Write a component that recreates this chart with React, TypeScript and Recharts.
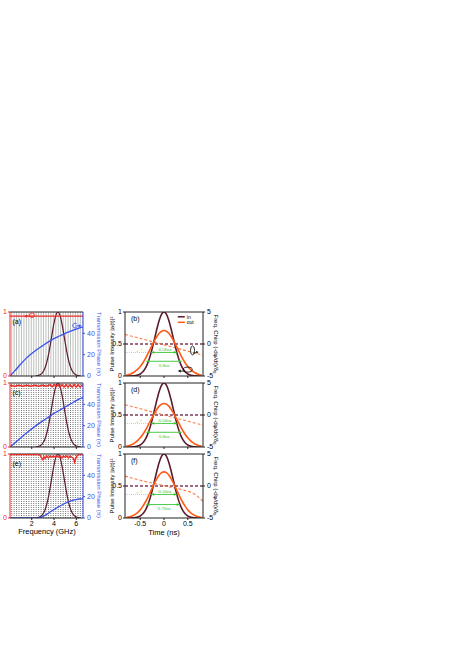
import React from 'react'
import { ComposedChart, Line, XAxis, YAxis, ReferenceLine, ReferenceDot } from 'recharts'

const FONT = '"Liberation Sans", Arial, Helvetica, sans-serif'
const RED = '#ee2a24'
const BLUE = '#3a52ee'
const MAROON = '#5a1c2b'
const ORANGE = '#ff5a14'
const DASH_IN = '#7d3a5c'
const DASH_OUT = '#ff7c45'
const GREEN = '#35c435'
const LIGHT_GREEN = '#9ad88c'

// ---- left column: frequency domain (GHz) ----
const freqTicks = [2, 4, 6]
const resonanceGHz = [
  0.2, 0.42, 0.64, 0.86, 1.08, 1.3, 1.52, 1.74, 1.96, 2.18, 2.4, 2.62, 2.84, 3.06, 3.28,
  3.5, 3.72, 3.94, 4.16, 4.38, 4.6, 4.82, 5.04, 5.26, 5.48, 5.7, 5.92, 6.14, 6.36, 6.58,
]

const spectrumGHz = [
  2.35, 2.55, 2.75, 2.95, 3.15, 3.35, 3.55, 3.75, 3.95, 4.15, 4.35, 4.55, 4.75, 4.95, 5.15,
  5.35, 5.55, 5.75, 5.95, 6.15, 6.35,
]
const spectrumAmp = [
  0.002, 0.007, 0.019, 0.049, 0.109, 0.215, 0.374, 0.575, 0.782, 0.94, 1, 0.94, 0.782, 0.575,
  0.374, 0.215, 0.109, 0.049, 0.019, 0.007, 0.002,
]

const phaseGHz = [0.05, 0.5, 1, 1.5, 2, 2.5, 3, 3.5, 4, 4.5, 5, 5.5, 6, 6.6]
const phaseA = [0, 5, 11, 16.5, 21, 25, 28.5, 32, 35, 37.5, 40, 42, 44, 46]
const phaseC = [0, 4, 8.5, 13, 17, 21, 24.5, 28, 31.5, 34.5, 37.5, 40.5, 43.5, 46.5]
const phaseEGHz = [0.05, 2.6, 3, 3.5, 4, 4.5, 5, 5.5, 6, 6.2, 6.6]
const phaseE = [0, 0, 1.5, 4.5, 8, 11, 13.8, 16, 17.3, 17.8, 18]

const transAGHz = [0.05, 6.6]
const transA = [0.935, 0.935]
const transCGHz = [
  0.05, 0.5, 0.85, 1.2, 1.55, 1.9, 2.25, 2.6, 2.95, 3.3, 3.65, 3.83, 4.0, 4.18, 4.36, 4.54,
  4.72, 4.9, 5.08, 5.26, 5.44, 5.62, 5.8, 5.98, 6.16, 6.34, 6.52, 6.6,
]
const transC = [
  0.96, 0.95, 0.965, 0.95, 0.965, 0.95, 0.965, 0.95, 0.965, 0.95, 0.97, 0.94, 0.975, 0.94,
  0.975, 0.935, 0.975, 0.935, 0.975, 0.935, 0.975, 0.935, 0.975, 0.935, 0.975, 0.935, 0.97, 0.96,
]
const transEGHz = [
  0.05, 2.7, 2.85, 3.0, 3.1, 3.2, 3.35, 3.5, 3.65, 3.8, 3.95, 4.1, 4.25, 4.4, 4.55, 4.7, 4.85,
  5.0, 5.15, 5.3, 5.45, 5.6, 5.75, 5.85, 5.95, 6.05, 6.2, 6.6,
]
const transE = [
  0.99, 0.99, 0.95, 0.91, 0.96, 0.93, 0.97, 0.94, 0.97, 0.95, 0.97, 0.95, 0.97, 0.95, 0.97,
  0.94, 0.97, 0.95, 0.97, 0.94, 0.97, 0.95, 0.93, 0.87, 0.93, 0.97, 0.99, 0.99,
]

// ---- right column: time domain (ns) ----
const timeTicks = [-0.5, 0, 0.5]
const timeNs = [
  -0.8, -0.75, -0.7, -0.65, -0.6, -0.55, -0.5, -0.45, -0.4, -0.35, -0.3, -0.25, -0.2, -0.15,
  -0.1, -0.05, 0, 0.05, 0.1, 0.15, 0.2, 0.25, 0.3, 0.35, 0.4, 0.45, 0.5, 0.55, 0.6, 0.65, 0.7,
  0.75, 0.8,
]
const pulseIn = [
  0, 0, 0.001, 0.003, 0.007, 0.016, 0.032, 0.062, 0.111, 0.186, 0.291, 0.424, 0.578, 0.734,
  0.872, 0.966, 1, 0.966, 0.872, 0.734, 0.578, 0.424, 0.291, 0.186, 0.111, 0.062, 0.032, 0.016,
  0.007, 0.003, 0.001, 0, 0,
]
const pulseOutB = [
  0.013, 0.021, 0.033, 0.051, 0.075, 0.107, 0.149, 0.2, 0.261, 0.33, 0.405, 0.48, 0.553, 0.617,
  0.667, 0.699, 0.71, 0.699, 0.667, 0.617, 0.553, 0.48, 0.405, 0.33, 0.261, 0.2, 0.149, 0.107,
  0.075, 0.051, 0.033, 0.021, 0.013,
]
const pulseOutD = [
  0.012, 0.02, 0.032, 0.048, 0.071, 0.103, 0.143, 0.192, 0.25, 0.316, 0.388, 0.46, 0.53, 0.591,
  0.639, 0.67, 0.68, 0.67, 0.639, 0.591, 0.53, 0.46, 0.388, 0.316, 0.25, 0.192, 0.143, 0.103,
  0.071, 0.048, 0.032, 0.02, 0.012,
]
const pulseOutF = [
  0.009, 0.015, 0.024, 0.039, 0.06, 0.089, 0.127, 0.177, 0.238, 0.308, 0.386, 0.467, 0.546,
  0.616, 0.672, 0.708, 0.72, 0.708, 0.672, 0.616, 0.546, 0.467, 0.386, 0.308, 0.238, 0.177,
  0.127, 0.089, 0.06, 0.039, 0.024, 0.015, 0.009,
]

const chirpInNs = [-0.82, 0.82]
const chirpIn = [0, 0]
const chirpLinNs = [-0.82, 0.82]
const chirpB = [1.5, -1.75]
const chirpD = [1.6, -1.6]
const chirpFNs = [-0.82, -0.6, -0.4, -0.2, 0, 0.2, 0.4, 0.55, 0.65, 0.72, 0.82]
const chirpF = [1.55, 1.1, 0.7, 0.38, 0.05, -0.28, -0.62, -0.95, -1.3, -1.7, -2.4]

const widthUpperNs = [-0.27, 0.27]
const widthLowerNsBD = [-0.37, 0.37]
const widthLowerNsF = [-0.37, 0.33]
const levelUpper = 0.368
const levelLowerBD = 0.23
const levelLowerF = 0.21
const widthLabelsBD = ['0.56ns', '0.8ns']
const widthLabelsF = ['0.56ns', '0.76ns']

const xy = (xs: number[], ys: number[]) => xs.map((x, i) => ({ x, y: ys[i] }))
const flat = (xs: number[], y: number) => xs.map((x) => ({ x, y }))

const tickStyle = (fill: string) => ({ fontSize: 7, fill, fontFamily: FONT })

function arrowDot(color: string) {
  return (p: any) => {
    const { cx, cy, index } = p
    const d = index === 0
      ? `M${cx},${cy} L${cx + 3},${cy - 1.4} L${cx + 3},${cy + 1.4} Z`
      : `M${cx},${cy} L${cx - 3},${cy - 1.4} L${cx - 3},${cy + 1.4} Z`
    return <path key={`a${index}`} d={d} fill={color} />
  }
}

function textShape(text: string, color: string, size: number) {
  return (p: any) => (
    <text x={p.cx} y={p.cy} fill={color} fontSize={size} fontFamily="Liberation Serif, serif"
      textAnchor="middle" dominantBaseline="central">{text}</text>
  )
}

function SpectrumPanel({ top, dotted, bottom, transX, trans, phaseX, phase, extra }: any) {
  const h = 4 + 64 + (bottom ? 14 : 4)
  return (
    <div style={{ position: 'absolute', left: 0, top: top - 4 }}>
      <ComposedChart width={112} height={h} margin={{ top: 4, right: 0, bottom: 0, left: 0 }}>
        <XAxis dataKey="x" type="number" domain={[0.05, 6.6]} ticks={freqTicks} allowDataOverflow
          height={bottom ? 14 : 4} tickSize={2} tickMargin={1} stroke="#222"
          tick={tickStyle('#000')} tickFormatter={bottom ? (v: number) => String(v) : () => ''} />
        <YAxis yAxisId="amp" domain={[0, 1]} ticks={[0, 1]} width={10} tickSize={2} tickMargin={1}
          stroke={RED} tick={tickStyle(RED)} allowDataOverflow />
        <YAxis yAxisId="phase" orientation="right" domain={[0, 60]} ticks={[0, 20, 40]} width={29}
          tickSize={2} tickMargin={2} stroke={BLUE} tick={tickStyle(BLUE)} allowDataOverflow />
        {resonanceGHz.map((f) => (
          <ReferenceLine key={f} x={f} yAxisId="amp" stroke={dotted ? '#1a1a1a' : '#8e9590'}
            strokeWidth={0.6} strokeDasharray={dotted ? '1 1' : undefined} />
        ))}
        <ReferenceLine yAxisId="amp" y={1} stroke="#222" strokeWidth={1} />
        <Line yAxisId="amp" data={xy(spectrumGHz, spectrumAmp)} dataKey="y" type="monotone"
          stroke={MAROON} strokeWidth={1.2} dot={false} activeDot={false} isAnimationActive={false} />
        <Line yAxisId="phase" data={xy(phaseX, phase)} dataKey="y" type="monotone"
          stroke={BLUE} strokeWidth={1.3} dot={false} activeDot={false} isAnimationActive={false} />
        <Line yAxisId="amp" data={xy(transX, trans)} dataKey="y" type="linear"
          stroke={RED} strokeWidth={1.4} dot={false} activeDot={false} isAnimationActive={false} />
        {extra}
      </ComposedChart>
    </div>
  )
}

function PulsePanel({ top, bottom, out, chirpX, chirp, lowerX, lowerLevel, labels, extra }: any) {
  const h = 4 + 64 + (bottom ? 14 : 4)
  return (
    <div style={{ position: 'absolute', left: 111, top: top - 4 }}>
      <ComposedChart width={106} height={h} margin={{ top: 4, right: 0, bottom: 0, left: 0 }}>
        <XAxis dataKey="x" type="number" domain={[-0.82, 0.82]} ticks={timeTicks} allowDataOverflow
          height={bottom ? 14 : 4} tickSize={2} tickMargin={1} stroke="#222"
          tick={tickStyle('#000')} tickFormatter={bottom ? (v: number) => String(v) : () => ''} />
        <YAxis yAxisId="int" domain={[0, 1]} ticks={[0, 0.5, 1]} width={14} tickSize={2} tickMargin={1}
          stroke="#222" tick={tickStyle('#000')} allowDataOverflow />
        <YAxis yAxisId="chirp" orientation="right" domain={[-5, 5]} ticks={[-5, 0, 5]} width={14}
          tickSize={2} tickMargin={2} stroke="#222" tick={tickStyle('#000')} allowDataOverflow />
        <ReferenceLine yAxisId="int" y={1} stroke="#222" strokeWidth={1} />
        <Line yAxisId="chirp" data={xy(chirpInNs, chirpIn)} dataKey="y" stroke={DASH_IN}
          strokeWidth={1.3} strokeDasharray="3 2" dot={false} activeDot={false} isAnimationActive={false} />
        <Line yAxisId="chirp" data={xy(chirpX, chirp)} dataKey="y" type="monotone" stroke={DASH_OUT}
          strokeWidth={1.1} strokeDasharray="3 2" dot={false} activeDot={false} isAnimationActive={false} />
        <Line yAxisId="int" data={xy(timeNs, pulseIn)} dataKey="y" type="monotone" stroke={MAROON}
          strokeWidth={1.6} dot={false} activeDot={false} isAnimationActive={false} />
        <Line yAxisId="int" data={xy(timeNs, out)} dataKey="y" type="monotone" stroke={ORANGE}
          strokeWidth={1.6} dot={false} activeDot={false} isAnimationActive={false} />
        <Line yAxisId="int" data={flat([-0.82, widthUpperNs[0]], levelUpper)} dataKey="y"
          stroke={LIGHT_GREEN} strokeWidth={0.8} strokeDasharray="1 1" dot={false} activeDot={false}
          isAnimationActive={false} />
        <Line yAxisId="int" data={flat(widthUpperNs, levelUpper)} dataKey="y" stroke={GREEN}
          strokeWidth={0.9} dot={arrowDot(GREEN)} activeDot={false} isAnimationActive={false} />
        <Line yAxisId="int" data={flat(lowerX, lowerLevel)} dataKey="y" stroke={GREEN}
          strokeWidth={0.9} dot={arrowDot(GREEN)} activeDot={false} isAnimationActive={false} />
        <ReferenceDot yAxisId="int" x={0.02} y={levelUpper + 0.05} r={0} shape={textShape(labels[0], GREEN, 5)} />
        <ReferenceDot yAxisId="int" x={0} y={lowerLevel - 0.06} r={0} shape={textShape(labels[1], GREEN, 5)} />
        <ReferenceDot yAxisId="int" x={-0.52} y={levelUpper + 0.035} r={0} shape={textShape('e⁻¹', LIGHT_GREEN, 4.5)} />
        {extra}
      </ComposedChart>
    </div>
  )
}

function VLabel({ x, y, text, color, angle }: any) {
  return (
    <div style={{
      position: 'absolute', left: x, top: y, transform: `translate(-50%, -50%) rotate(${angle}deg)`,
      whiteSpace: 'nowrap', fontSize: 6, lineHeight: 1, color, fontFamily: FONT,
    }}>{text}</div>
  )
}

function Tag({ x, y, text }: any) {
  return (
    <div style={{ position: 'absolute', left: x, top: y, fontSize: 7, lineHeight: 1, fontFamily: FONT }}>
      {text}
    </div>
  )
}

const redLoop = (p: any) => (
  <g>
    <path d={`M${p.cx - 5},${p.cy} L${p.cx - 2},${p.cy - 1.6} L${p.cx - 2},${p.cy + 1.6} Z`} fill={RED} />
    <line x1={p.cx - 2} y1={p.cy} x2={p.cx + 1} y2={p.cy} stroke={RED} strokeWidth={0.9} />
    <circle cx={p.cx + 3} cy={p.cy - 1} r={2.4} fill="none" stroke={RED} strokeWidth={0.9} />
  </g>
)
const blueLoop = (p: any) => (
  <g>
    <path d={`M${p.cx + 2},${p.cy - 2.2} A2.4,2.4 0 1,0 ${p.cx + 2},${p.cy + 1.6}`} fill="none" stroke={BLUE} strokeWidth={0.9} />
    <line x1={p.cx + 1} y1={p.cy} x2={p.cx + 4} y2={p.cy} stroke={BLUE} strokeWidth={0.9} />
    <path d={`M${p.cx + 7},${p.cy} L${p.cx + 4},${p.cy - 1.6} L${p.cx + 4},${p.cy + 1.6} Z`} fill={BLUE} />
  </g>
)
const chirpLoop = (p: any) => (
  <g>
    <ellipse cx={p.cx} cy={p.cy} rx={2} ry={4.5} fill="none" stroke="#000" strokeWidth={0.8} />
    <line x1={p.cx + 1} y1={p.cy + 3} x2={p.cx + 4} y2={p.cy + 2} stroke="#000" strokeWidth={0.8} />
    <path d={`M${p.cx + 6},${p.cy + 1.5} L${p.cx + 3.5},${p.cy + 0.6} L${p.cx + 4},${p.cy + 3.2} Z`} fill="#000" />
  </g>
)
const intLoop = (p: any) => (
  <g>
    <ellipse cx={p.cx} cy={p.cy} rx={4.5} ry={2.5} fill="none" stroke="#000" strokeWidth={0.8} />
    <line x1={p.cx - 3} y1={p.cy + 1.5} x2={p.cx - 7} y2={p.cy + 1.5} stroke="#000" strokeWidth={0.8} />
    <path d={`M${p.cx - 10},${p.cy + 1.5} L${p.cx - 7},${p.cy} L${p.cx - 7},${p.cy + 3} Z`} fill="#000" />
  </g>
)
const legendShape = (p: any) => (
  <g fontFamily={FONT} fontSize={5}>
    <line x1={p.cx} x2={p.cx + 7} y1={p.cy} y2={p.cy} stroke={MAROON} strokeWidth={1.5} />
    <text x={p.cx + 9} y={p.cy + 1.8} fill="#000">in</text>
    <line x1={p.cx} x2={p.cx + 7} y1={p.cy + 5.5} y2={p.cy + 5.5} stroke={ORANGE} strokeWidth={1.5} />
    <text x={p.cx + 9} y={p.cy + 7.3} fill="#000">out</text>
  </g>
)

const PANEL_TOPS = [312, 383, 454]

export default function App() {
  return (
    <div style={{ position: 'relative', width: 463, height: 650, fontFamily: FONT, overflow: 'hidden' }}>
      <style>{'body{margin:0}'}</style>

      <SpectrumPanel top={PANEL_TOPS[0]} dotted={false} transX={transAGHz} trans={transA}
        phaseX={phaseGHz} phase={phaseA}
        extra={[
          <ReferenceDot key="r" yAxisId="amp" x={1.75} y={0.935} r={0} shape={redLoop} />,
          <ReferenceDot key="b" yAxisId="phase" x={5.85} y={47} r={0} shape={blueLoop} />,
        ]} />
      <SpectrumPanel top={PANEL_TOPS[1]} dotted transX={transCGHz} trans={transC}
        phaseX={phaseGHz} phase={phaseC} />
      <SpectrumPanel top={PANEL_TOPS[2]} dotted bottom transX={transEGHz} trans={transE}
        phaseX={phaseEGHz} phase={phaseE} />

      <PulsePanel top={PANEL_TOPS[0]} out={pulseOutB} chirpX={chirpLinNs} chirp={chirpB}
        lowerX={widthLowerNsBD} lowerLevel={levelLowerBD} labels={widthLabelsBD}
        extra={[
          <ReferenceDot key="l" yAxisId="int" x={0.29} y={0.925} r={0} shape={legendShape} />,
          <ReferenceDot key="c" yAxisId="int" x={0.6} y={0.4} r={0} shape={chirpLoop} />,
          <ReferenceDot key="i" yAxisId="int" x={0.5} y={0.1} r={0} shape={intLoop} />,
        ]} />
      <PulsePanel top={PANEL_TOPS[1]} out={pulseOutD} chirpX={chirpLinNs} chirp={chirpD}
        lowerX={widthLowerNsBD} lowerLevel={levelLowerBD} labels={widthLabelsBD} />
      <PulsePanel top={PANEL_TOPS[2]} bottom out={pulseOutF} chirpX={chirpFNs} chirp={chirpF}
        lowerX={widthLowerNsF} lowerLevel={levelLowerF} labels={widthLabelsF} />

      {PANEL_TOPS.map((t, i) => (
        <React.Fragment key={t}>
          <Tag x={12.5} y={t + 5.5} text={['(a)', '(c)', '(e)'][i]} />
          <Tag x={131} y={t + 3} text={['(b)', '(d)', '(f)'][i]} />
          <VLabel x={98.5} y={t + 32} angle={90} color={BLUE} text="Transmission Phase (π)" />
          <VLabel x={111.5} y={t + 32} angle={-90} color="#000" text="Pulse Intensity |a(t)|²" />
          <VLabel x={216} y={t + 32} angle={90} color="#000" text="Freq. Chirp (-dφ/dt)/δ₀" />
        </React.Fragment>
      ))}

      <div style={{ position: 'absolute', left: 47, top: 531, transform: 'translate(-50%, -50%)', fontSize: 7.5, whiteSpace: 'nowrap' }}>
        Frequency (GHz)
      </div>
      <div style={{ position: 'absolute', left: 164, top: 531.5, transform: 'translate(-50%, -50%)', fontSize: 7.5, whiteSpace: 'nowrap' }}>
        Time (ns)
      </div>
    </div>
  )
}
